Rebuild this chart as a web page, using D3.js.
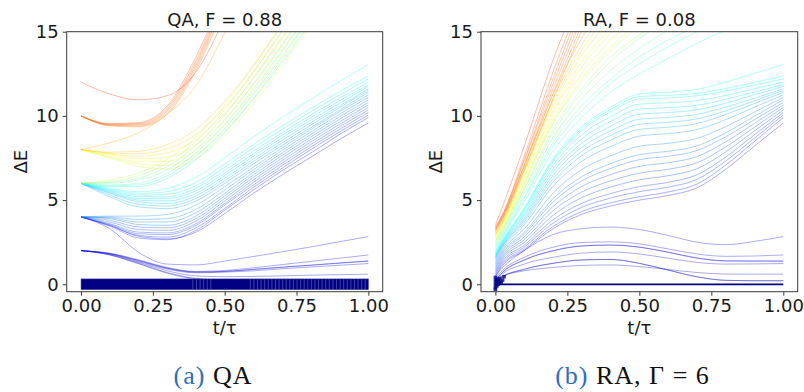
<!DOCTYPE html>
<html><head><meta charset="utf-8">
<script src="https://cdn.jsdelivr.net/npm/d3@7"></script>
<style>
body{margin:0;background:#fff;}
svg{display:block;}
</style></head><body>
<svg id="chart" width="804" height="392"></svg>
<script>
// ---------------- DATA ----------------
const xTicks = [0, 0.25, 0.5, 0.75, 1.0];
const yTicks = [0, 5, 10, 15];
const titles = ["QA, F = 0.88", "RA, F = 0.08"];
const captionTags = ["(a)", "(b)"];
const captionTexts = [" QA", " RA, \u0393 = 6"];

// time grids
const tQA = [0, 0.1, 0.2, 0.3, 0.4, 0.5, 0.6, 0.7, 0.8, 0.9, 1.0];
const tRA = [0, 0.02, 0.1, 0.2, 0.3, 0.4, 0.5, 0.6, 0.7, 0.8, 0.9, 1.0];

// QA: low levels (end near 0-3)
const qaLow = [
  [2.0, 1.75, 1.25, 0.7, 0.35, 0.25, 0.22, 0.21, 0.21, 0.21, 0.21],
  [2.0, 1.74, 1.22, 0.66, 0.32, 0.23, 0.21, 0.21, 0.21, 0.21, 0.21],
  [2.0, 1.78, 1.3, 0.8, 0.5, 0.45, 0.47, 0.5, 0.54, 0.57, 0.6],
  [2.0, 1.8, 1.35, 0.9, 0.68, 0.72, 0.8, 0.92, 1.03, 1.13, 1.23],
  [2.0, 1.82, 1.4, 0.95, 0.72, 0.76, 0.88, 1.01, 1.13, 1.25, 1.37],
  [2.0, 1.82, 1.41, 0.96, 0.73, 0.77, 0.89, 1.02, 1.14, 1.27, 1.39],
  [2.0, 1.85, 1.45, 1.0, 0.76, 0.82, 0.98, 1.17, 1.36, 1.55, 1.74],
  [4.0, 3.3, 1.9, 1.2, 1.15, 1.38, 1.65, 1.93, 2.22, 2.53, 2.83]
];
// QA: middle levels (end 9.5-13)
const qaMid = [
  [4.0, 3.5, 2.85, 2.7, 3.1, 4.2, 5.4, 6.5, 7.55, 8.6, 9.58],
  [4.0, 3.45, 2.75, 2.65, 3.2, 4.4, 5.6, 6.75, 7.8, 8.9, 9.9],
  [4.0, 3.5, 2.9, 2.8, 3.35, 4.5, 5.75, 6.9, 8.0, 9.05, 10.05],
  [4.0, 3.55, 3.0, 2.95, 3.5, 4.7, 5.9, 7.05, 8.15, 9.2, 10.2],
  [4.0, 3.6, 3.1, 3.05, 3.6, 4.8, 6.05, 7.2, 8.3, 9.35, 10.35],
  [4.0, 3.7, 3.25, 3.2, 3.75, 4.95, 6.2, 7.35, 8.45, 9.5, 10.5],
  [4.0, 3.8, 3.4, 3.35, 3.9, 5.1, 6.35, 7.5, 8.6, 9.65, 10.65],
  [4.0, 3.9, 3.55, 3.5, 4.05, 5.25, 6.5, 7.65, 8.75, 9.8, 10.8],
  [4.0, 3.95, 3.7, 3.7, 4.25, 5.4, 6.65, 7.8, 8.9, 9.95, 10.95],
  [4.0, 4.0, 3.85, 3.9, 4.45, 5.6, 6.8, 7.95, 9.05, 10.1, 11.1],
  [4.0, 4.05, 4.05, 4.15, 4.7, 5.8, 6.95, 8.1, 9.2, 10.25, 11.25],
  [6.0, 5.2, 4.6, 4.5, 4.95, 6.0, 7.15, 8.25, 9.3, 10.35, 11.4],
  [6.0, 5.3, 4.75, 4.65, 5.1, 6.15, 7.3, 8.4, 9.45, 10.5, 11.5],
  [6.0, 5.4, 4.9, 4.8, 5.25, 6.3, 7.45, 8.55, 9.6, 10.6, 11.6],
  [6.0, 5.45, 5.0, 4.95, 5.4, 6.45, 7.6, 8.7, 9.75, 10.75, 11.75],
  [6.0, 5.5, 5.1, 5.1, 5.55, 6.6, 7.75, 8.85, 9.9, 10.9, 11.85],
  [6.0, 5.55, 5.2, 5.2, 5.7, 6.75, 7.9, 9.0, 10.05, 11.05, 12.0],
  [6.0, 5.6, 5.3, 5.35, 5.85, 6.95, 8.1, 9.2, 10.25, 11.25, 12.2],
  [6.0, 5.65, 5.4, 5.5, 6.05, 7.15, 8.3, 9.4, 10.45, 11.45, 12.36],
  [6.0, 5.7, 5.5, 5.7, 6.35, 7.5, 8.75, 9.9, 11.0, 12.05, 13.05]
];
// QA: high levels (leave the plot top)
const qaHigh = [
  [6.0, 5.8, 5.8, 6.3, 7.4, 9.0, 11.0, 13.2, 15.6, 18.0],
  [6.0, 5.85, 5.9, 6.45, 7.6, 9.25, 11.3, 13.55, 16.0, 18.5],
  [6.0, 5.9, 6.0, 6.6, 7.8, 9.5, 11.6, 13.9, 16.4, 19.0],
  [6.0, 6.0, 6.2, 6.8, 8.0, 9.75, 11.9, 14.25, 16.8],
  [6.0, 6.05, 6.3, 7.0, 8.25, 10.05, 12.25, 14.7, 17.3],
  [6.0, 6.1, 6.45, 7.2, 8.5, 10.35, 12.6, 15.1, 17.8],
  [6.0, 6.2, 6.6, 7.4, 8.75, 10.65, 12.95, 15.5, 18.2],
  [8.0, 7.5, 7.0, 6.85, 7.45, 8.8, 10.7, 13.0, 15.5, 18.0],
  [8.0, 7.55, 7.15, 7.05, 7.7, 9.1, 11.05, 13.4, 15.9],
  [8.0, 7.6, 7.3, 7.3, 8.0, 9.45, 11.45, 13.8, 16.3],
  [8.0, 7.7, 7.45, 7.55, 8.3, 9.8, 11.85, 14.2, 16.7],
  [8.0, 7.75, 7.6, 7.8, 8.6, 10.15, 12.25, 14.6, 17.1],
  [8.0, 7.8, 7.75, 8.05, 8.9, 10.5, 12.6, 15.0, 17.5],
  [8.0, 7.85, 7.9, 8.3, 9.2, 10.85, 13.0, 15.4, 17.9],
  [8.0, 8.4, 9.0, 10.1, 11.8, 14.9, 18.0],
  [10.0, 9.4, 9.35, 10.1, 12.7, 16.5, 20.5],
  [10.0, 9.45, 9.4, 10.2, 12.85, 16.7, 20.7],
  [10.0, 9.45, 9.45, 10.3, 13.0, 16.85, 20.9],
  [10.0, 9.5, 9.5, 10.4, 13.15, 17.0, 21.0],
  [10.0, 9.5, 9.55, 10.5, 13.3, 17.2, 21.2],
  [10.0, 9.55, 9.6, 10.6, 13.5, 17.4, 21.4],
  [12.0, 11.3, 10.95, 11.2, 12.6, 15.8, 19.5]
];
// QA ground band (degenerate ground states at ΔE = 0)
const qaGroundSpan = [[0, 1.0]];
const qaGroundSparse = [[0.383, 0.46], [0.583, 1.0]];
const qaGroundStep = 0.0125;

// RA: low levels
const raLow = [
  [0.1, 0.4, 0.9, 1.25, 1.45, 1.48, 1.25, 0.85, 0.45, 0.24, 0.21, 0.21],
  [0.05, 0.38, 0.88, 1.24, 1.44, 1.47, 1.24, 0.84, 0.44, 0.23, 0.21, 0.21],
  [0.15, 0.45, 0.8, 1.0, 1.12, 1.15, 1.05, 0.88, 0.7, 0.61, 0.6, 0.6],
  [0.2, 0.55, 1.2, 1.6, 1.85, 1.92, 1.8, 1.55, 1.3, 1.2, 1.21, 1.23],
  [0.25, 0.65, 1.45, 2.0, 2.28, 2.33, 2.2, 1.9, 1.55, 1.38, 1.37, 1.37],
  [0.22, 0.62, 1.43, 1.98, 2.27, 2.33, 2.21, 1.91, 1.57, 1.4, 1.39, 1.39],
  [0.35, 0.75, 1.6, 2.2, 2.48, 2.52, 2.4, 2.1, 1.8, 1.66, 1.68, 1.74],
  [0.5, 0.9, 2.0, 2.95, 3.3, 3.4, 3.25, 2.9, 2.5, 2.35, 2.55, 2.83]
];
// RA: middle levels
const raMid = [
  [0.4, 1.0, 2.0, 3.3, 4.15, 4.65, 5.0, 5.27, 5.73, 6.83, 8.21, 9.58],
  [0.5, 1.1, 2.08, 3.43, 4.32, 4.84, 5.2, 5.48, 5.95, 7.08, 8.49, 9.9],
  [0.6, 1.2, 2.2, 3.63, 4.57, 5.12, 5.5, 5.77, 6.23, 7.32, 8.69, 10.05],
  [0.7, 1.3, 2.32, 3.83, 4.81, 5.39, 5.8, 6.06, 6.5, 7.56, 8.88, 10.2],
  [0.8, 1.4, 2.48, 4.09, 5.15, 5.77, 6.2, 6.45, 6.86, 7.86, 9.11, 10.35],
  [0.9, 1.5, 2.64, 4.36, 5.48, 6.14, 6.6, 6.83, 7.22, 8.16, 9.33, 10.5],
  [1.0, 1.6, 2.8, 4.62, 5.81, 6.51, 7.0, 7.22, 7.58, 8.46, 9.56, 10.65],
  [1.1, 1.7, 2.96, 4.88, 6.14, 6.88, 7.4, 7.6, 7.94, 8.76, 9.78, 10.8],
  [1.2, 1.8, 3.08, 5.08, 6.39, 7.16, 7.7, 7.9, 8.22, 9.0, 9.98, 10.95],
  [1.3, 1.9, 3.28, 5.41, 6.81, 7.63, 8.2, 8.37, 8.66, 9.36, 10.23, 11.1],
  [1.4, 2.0, 3.52, 5.81, 7.3, 8.18, 8.8, 8.95, 9.19, 9.78, 10.52, 11.25],
  [1.5, 2.1, 3.68, 6.07, 7.64, 8.56, 9.2, 9.33, 9.55, 10.08, 10.74, 11.4],
  [1.55, 2.15, 3.8, 6.27, 7.89, 8.84, 9.5, 9.62, 9.82, 10.3, 10.9, 11.5],
  [1.6, 2.2, 3.92, 6.47, 8.13, 9.11, 9.8, 9.91, 10.09, 10.52, 11.06, 11.6],
  [1.65, 2.25, 4.04, 6.67, 8.38, 9.39, 10.1, 10.2, 10.36, 10.76, 11.26, 11.75],
  [1.7, 2.3, 4.16, 6.86, 8.63, 9.67, 10.4, 10.49, 10.63, 10.98, 11.42, 11.85],
  [1.75, 2.35, 4.28, 7.06, 8.88, 9.95, 10.7, 10.78, 10.91, 11.22, 11.61, 12.0],
  [1.8, 2.4, 4.4, 7.26, 9.13, 10.23, 11.0, 11.07, 11.19, 11.48, 11.84, 12.2],
  [1.85, 2.45, 4.46, 7.36, 9.25, 10.37, 11.15, 11.22, 11.34, 11.63, 12.0, 12.36],
  [1.9, 2.5, 4.52, 7.46, 9.38, 10.51, 11.3, 11.41, 11.58, 12.0, 12.53, 13.05]
];
// RA: high levels
const raHigh = [
  [2.0, 2.6, 4.9, 7.9, 9.9, 11.4, 12.5, 13.4, 14.3, 15.1, 15.8],
  [2.1, 2.7, 5.1, 8.2, 10.3, 11.9, 13.1, 14.1, 15.0, 15.8],
  [2.2, 2.8, 5.2, 8.4, 10.6, 12.2, 13.5, 14.5, 15.3],
  [2.3, 2.9, 5.4, 8.7, 11.0, 12.7, 14.0, 15.1],
  [2.4, 3.0, 5.6, 9.0, 11.4, 13.2, 14.6, 15.7],
  [2.5, 3.1, 5.7, 9.2, 11.6, 13.5, 14.8, 15.9],
  [2.55, 3.15, 5.9, 9.5, 12.0, 13.9, 15.3],
  [2.6, 3.2, 6.0, 9.6, 12.2, 14.1, 15.5],
  [2.7, 3.3, 6.1, 9.8, 12.5, 14.5, 16.0],
  [2.8, 3.4, 6.3, 10.1, 12.9, 14.9, 16.4],
  [2.85, 3.45, 6.4, 10.3, 13.2, 15.2],
  [2.9, 3.5, 6.6, 10.6, 13.6, 15.7],
  [2.95, 3.55, 6.7, 10.8, 13.9, 16.1],
  [3.0, 3.6, 6.8, 11.0, 14.2, 16.5],
  [3.1, 3.7, 7.0, 11.3, 14.6, 17.0],
  [3.15, 3.75, 6.8, 11.0, 15.1],
  [3.2, 3.8, 7.0, 11.3, 15.4],
  [3.25, 3.85, 7.1, 11.6, 15.8],
  [3.3, 3.9, 7.3, 11.9, 16.2],
  [3.35, 3.95, 7.4, 12.2, 16.6],
  [3.4, 4.0, 7.6, 12.6, 17.0],
  [3.5, 4.4, 8.2, 13.3, 17.5]
];
// RA ground state line and its start-up markers
const raGroundT = [0, 1.0];
const raGroundV = [0, 0];
const raStartT = [0, 0, 0, 0, 0, 0.005, 0.005, 0.005, 0.01, 0.01, 0.015, 0.015, 0.02, 0.025, 0.03];
const raStartV = [0.4, 0.2, 0, -0.2, -0.3, 0.3, 0.1, -0.1, 0.2, 0, 0.35, 0.15, 0.1, 0.25, 0.45];

// ---------------- DRAW ----------------
const svg = d3.select("#chart");
const FONT = "DejaVu Sans, sans-serif";
const panelX = [[66.7, 382.7], [481, 797.7]];
const plotTop = 31.7, plotBottom = 291.7;

function jet(v) {
  const c = x => Math.max(0, Math.min(1, x));
  const r = c(1.5 - Math.abs(4 * v - 3));
  const g = c(1.5 - Math.abs(4 * v - 2));
  const b = c(1.5 - Math.abs(4 * v - 1));
  return d3.rgb(r * 255, g * 255, b * 255).toString();
}
const lowC = d3.scaleLinear().domain([0, 7]).range([0.05, 0.11]);
const midC = d3.scaleLinear().domain([0, 19]).range([0.13, 0.39]);
const highC = d3.scaleLinear()
  .domain([0, 2, 3, 6, 7, 13, 14, 15, 20, 21])
  .range([0.40, 0.45, 0.47, 0.56, 0.58, 0.69, 0.72, 0.76, 0.80, 0.83]);

const panels = [
  {t: tQA, low: qaLow, mid: qaMid, high: qaHigh, kind: "QA"},
  {t: tRA, low: raLow, mid: raMid, high: raHigh, kind: "RA"}
];

panels.forEach((p, pi) => {
  const [x0, x1] = panelX[pi];
  const x = d3.scaleLinear().domain([-0.05, 1.05]).range([x0, x1]);
  const y = d3.scaleLinear().domain([-0.44, 15]).range([plotBottom, plotTop]);
  const g = svg.append("g");
  const clipId = "clip" + pi;
  svg.append("clipPath").attr("id", clipId).append("rect")
    .attr("x", x0).attr("y", plotTop).attr("width", x1 - x0).attr("height", plotBottom - plotTop);
  const plot = g.append("g").attr("clip-path", `url(#${clipId})`);

  const line = d3.line().x(d => x(d[0])).y(d => y(d[1])).curve(d3.curveMonotoneX);
  const series = [];
  p.low.forEach((v, i) => series.push({v, c: lowC(i)}));
  p.mid.forEach((v, i) => series.push({v, c: midC(i)}));
  p.high.forEach((v, i) => series.push({v, c: highC(i)}));

  if (p.kind === "RA") {
    plot.append("path")
      .attr("d", line(raGroundT.map((t, i) => [t, raGroundV[i]])))
      .attr("fill", "none").attr("stroke", jet(0)).attr("stroke-width", 1.8);
  }

  series.forEach(s => {
    plot.append("path")
      .attr("d", line(s.v.map((val, i) => [p.t[i], val])))
      .attr("fill", "none")
      .attr("stroke", jet(s.c))
      .attr("stroke-width", 1)
      .attr("stroke-opacity", 0.33);
  });

  if (p.kind === "QA") {
    const half = 5.35;
    const bandG = plot.append("g");
    bandG.selectAll("rect.band").data(qaGroundSpan).join("rect")
      .attr("x", d => x(d[0])).attr("width", d => x(d[1]) - x(d[0]))
      .attr("y", y(0) - half).attr("height", 2 * half)
      .attr("fill", "#000080").attr("stroke", "#3c3ca0").attr("stroke-width", 0.6);
    const stripes = [];
    qaGroundSparse.forEach(([a, b]) => {
      d3.range(a + qaGroundStep / 2, b, qaGroundStep).forEach(t => stripes.push(t));
    });
    bandG.selectAll("line.stripe").data(stripes).join("line")
      .attr("x1", d => x(d)).attr("x2", d => x(d))
      .attr("y1", y(0) - half + 0.5).attr("y2", y(0) + half - 0.5)
      .attr("stroke", "#6a6ac4").attr("stroke-width", 0.7).attr("stroke-opacity", 0.85);
  } else {
    plot.selectAll("rect.start").data(raStartT.map((t, i) => [t, raStartV[i]])).join("rect")
      .attr("x", d => x(d[0]) - 1.8).attr("y", d => y(d[1]) - 1.8)
      .attr("width", 3.6).attr("height", 3.6)
      .attr("fill", "#000080").attr("fill-opacity", 0.8);
  }

  // frame
  g.append("rect").attr("x", x0).attr("y", plotTop)
    .attr("width", x1 - x0).attr("height", plotBottom - plotTop)
    .attr("fill", "none").attr("stroke", "#3a3a3a").attr("stroke-width", 1);

  // axes
  const xa = g.append("g").attr("transform", `translate(0,${plotBottom})`)
    .call(d3.axisBottom(x).tickValues(xTicks).tickFormat(d3.format(".2f")).tickSize(4).tickPadding(4));
  const ya = g.append("g").attr("transform", `translate(${x0},0)`)
    .call(d3.axisLeft(y).tickValues(yTicks).tickFormat(d3.format("d")).tickSize(4).tickPadding(4));
  [xa, ya].forEach(a => {
    a.select(".domain").remove();
    a.selectAll("line").attr("stroke", "#3a3a3a");
    a.selectAll("text").attr("font-family", FONT).attr("font-size", 18).attr("fill", "#1a1a1a");
  });

  const cx = (x0 + x1) / 2;
  g.append("text").attr("x", cx).attr("y", 26).attr("text-anchor", "middle")
    .attr("font-family", FONT).attr("font-size", 18).attr("fill", "#1a1a1a").text(titles[pi]);
  g.append("text").attr("x", cx).attr("y", 334).attr("text-anchor", "middle")
    .attr("font-family", FONT).attr("font-size", 18).attr("fill", "#1a1a1a").text("t/\u03c4");
  const lx = pi === 0 ? 27 : 442;
  g.append("text").attr("transform", `translate(${lx},${(plotTop + plotBottom) / 2}) rotate(-90)`)
    .attr("text-anchor", "middle").attr("font-family", FONT).attr("font-size", 18)
    .attr("fill", "#1a1a1a").text("\u0394E");

  const capX = pi === 0 ? 213 : 632.5;
  const cap = g.append("text").attr("x", capX).attr("y", 384).attr("text-anchor", "middle")
    .attr("font-family", "Liberation Serif, serif").attr("font-size", 26)
    .attr("letter-spacing", 1).attr("fill", "#111");
  cap.append("tspan").attr("fill", "#2f6fc0").text(captionTags[pi]);
  cap.append("tspan").text(captionTexts[pi]);
});
</script>
</body></html>
